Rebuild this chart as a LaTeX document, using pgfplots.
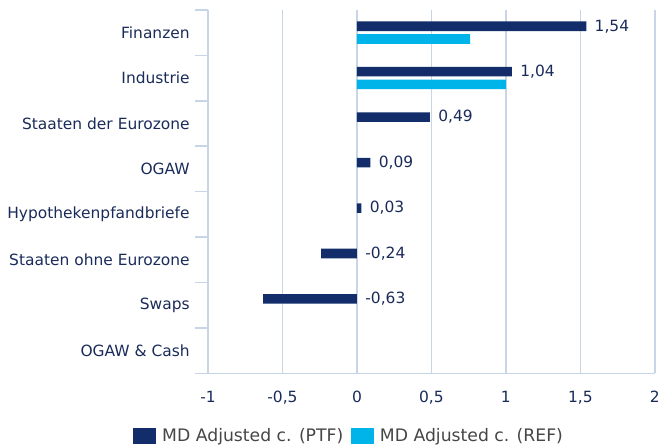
\documentclass[border=0pt]{standalone}
\usepackage{pgfplots}
\pgfplotsset{compat=1.18}
\usepackage{fontspec}
\setmainfont{DejaVu Sans}
\definecolor{ptf}{RGB}{18,45,106}
\definecolor{ref}{RGB}{0,180,234}
\definecolor{txt}{RGB}{26,43,90}
\definecolor{leg}{RGB}{70,70,70}
\definecolor{axg}{RGB}{200,213,230}
\begin{document}
\begin{tikzpicture}
\begin{axis}[
  scale only axis,
  width=451pt, height=367pt,
  font=\fontsize{15.6}{18}\selectfont,
  xbar,
  xmin=-1, xmax=2,
  ymin=-0.5, ymax=7.5,
  y dir=reverse,
  xtick={-1,-0.5,0,0.5,1,1.5,2},
  ytick={0,1,2,3,4,5,6,7},
  yticklabels={Finanzen,Industrie,Staaten der Eurozone,OGAW,Hypothekenpfandbriefe,Staaten ohne Eurozone,Swaps,OGAW \& Cash},
  minor ytick={-0.5,0.5,1.5,2.5,3.5,4.5,5.5,6.5,7.5},
  major tick length=0pt,
  minor tick length=13pt,
  tick align=outside,
  minor tick style={draw=axg, line width=1.6pt},
  axis x line*=bottom,
  axis y line*=left,
  axis line style={draw=axg, line width=1.6pt},
  xmajorgrids=true,
  major grid style={draw=axg, line width=1.6pt},
  /pgf/number format/assume math mode=true,
  /pgf/number format/use comma,
  ticklabel style={text=txt},
  yticklabel style={xshift=-15pt},
  xticklabel style={yshift=-14pt},
  bar width=0.21,
  legend style={draw=none, at={(0.316,-0.172)}, anchor=center, legend columns=2,
    font=\fontsize{17.4}{20}\selectfont,
    /tikz/every odd column/.append style={column sep=4pt},
    /tikz/every even column/.append style={column sep=6pt}, text=leg},
  legend image code/.code={\fill[#1] (0pt,-8pt) rectangle (23pt,8pt);},
]
\addplot[xbar, bar shift=-0.14, fill=ptf, draw=none] coordinates {
  (1.54,0) (1.04,1) (0.49,2) (0.09,3) (0.03,4) (-0.24,5) (-0.63,6)
};
\addlegendentry{MD Adjusted c. (PTF)}
\addplot[xbar, bar shift=0.14, fill=ref, draw=none] coordinates {
  (0.76,0) (1.00,1)
};
\addlegendentry{MD Adjusted c. (REF)}
\addplot[xbar, bar shift=-0.14, draw=none, fill=none, forget plot,
  point meta=explicit,
  nodes near coords={\pgfmathprintnumber[fixed,fixed zerofill,precision=2,use comma,assume math mode=true]{\pgfplotspointmeta}},
  every node near coord/.append style={text=txt, anchor=west, xshift=5pt, font=\fontsize{15.6}{18}\selectfont}]
  table[x=x, y=y, meta=v] {
x y v
1.54 0 1.54
1.04 1 1.04
0.49 2 0.49
0.09 3 0.09
0.03 4 0.03
0 5 -0.24
0 6 -0.63
};
\end{axis}
\path (current axis.south west) +(-210pt,-73pt) (current axis.north east) +(2pt,10pt);
\end{tikzpicture}
\end{document}
